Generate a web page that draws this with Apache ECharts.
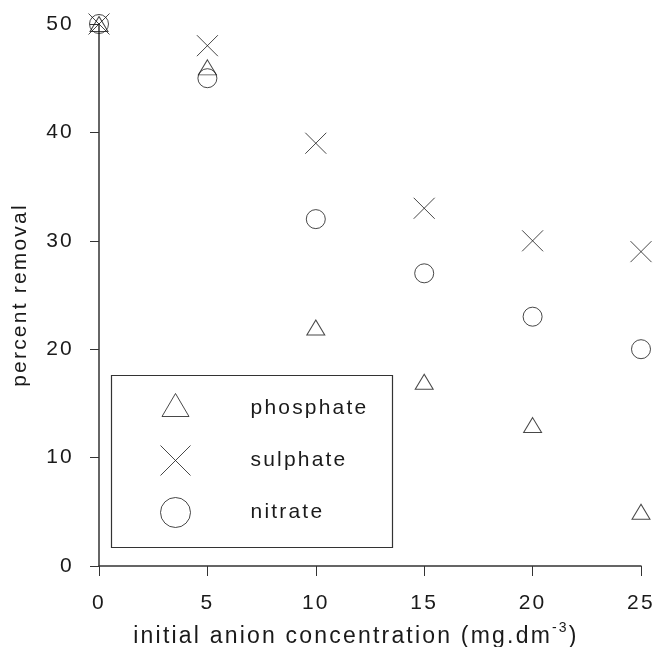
<!DOCTYPE html>
<html>
<head>
<meta charset="utf-8">
<script src="https://cdn.jsdelivr.net/npm/echarts@6/dist/echarts.min.js"></script>
<style>
html,body{margin:0;padding:0;background:#fff;}
#chart{width:655px;height:647px;}
</style>
</head>
<body>
<div id="chart"></div>
<script>
const concentrations = [0, 5, 10, 15, 20, 25];
const phosphate = [50, 46, 22, 17, 13, 5];
const sulphate = [50, 48, 39, 33, 30, 29];
const nitrate = [50, 45, 32, 27, 23, 20];
const seriesNames = ['phosphate', 'sulphate', 'nitrate'];
const xTicks = [0, 5, 10, 15, 20, 25];
const yTicks = [0, 10, 20, 30, 40, 50];

// letter spacing for canvas text (the reference typeface is widely tracked)
(function () {
  const P = CanvasRenderingContext2D.prototype;
  const SP = '2.2px';
  ['fillText', 'strokeText', 'measureText'].forEach(function (fn) {
    const orig = P[fn];
    P[fn] = function () {
      try { this.letterSpacing = SP; } catch (e) {}
      return orig.apply(this, arguments);
    };
  });
})();

const FONT = '"Liberation Sans", Arial, sans-serif';
const FS = 21;
const INK = '#1a1a1a';
const crossPath = 'path://M0,0L10,10M10,0L0,10';
const legendTri = 'path://M0,0M30,30M1.5,23L15,0L28.5,23Z';

function pairs(vals) { return concentrations.map((x, i) => [x, vals[i]]); }

const chart = echarts.init(document.getElementById('chart'), null, {renderer: 'canvas'});
const markerStyle = {color: 'none', borderColor: INK, borderWidth: 1};

chart.setOption({
  animation: false,
  backgroundColor: '#fff',
  grid: {left: 99, right: 14, top: 24, bottom: 81, containLabel: false, outerBoundsMode: 'none'},
  xAxis: {
    type: 'value', min: 0, max: 25, interval: 5,
    name: '{n|initial anion concentration (mg.dm}{s|-3}{n|)}',
    nameLocation: 'middle', nameGap: 54,
    nameTextStyle: {
      padding: [0, 28, 0, 0],
      rich: {
        n: {fontFamily: FONT, fontSize: 23, color: INK},
        s: {fontFamily: FONT, fontSize: 14, color: INK, padding: [0, 0, 16, 0]}
      }
    },
    axisLine: {show: true, onZero: false, lineStyle: {color: '#333', width: 1.5}},
    axisTick: {show: true, inside: false, length: 10, lineStyle: {color: '#333', width: 1}},
    axisLabel: {margin: 26, fontFamily: FONT, fontSize: FS, color: INK},
    splitLine: {show: false}
  },
  yAxis: {
    type: 'value', min: 0, max: 50, interval: 10,
    name: 'percent removal',
    nameLocation: 'middle', nameGap: 67,
    nameTextStyle: {fontFamily: FONT, fontSize: FS, color: INK},
    axisLine: {show: true, onZero: false, lineStyle: {color: '#333', width: 1.5}},
    axisTick: {show: true, inside: false, length: 9, lineStyle: {color: '#333', width: 1}},
    axisLabel: {margin: 25, fontFamily: FONT, fontSize: FS, color: INK},
    splitLine: {show: false}
  },
  legend: {
    orient: 'vertical',
    left: 158, top: 391,
    padding: 0,
    itemWidth: 30, itemHeight: 30, itemGap: 17,
    symbolKeepAspect: true,
    textStyle: {fontFamily: FONT, fontSize: FS, color: INK, lineHeight: 30, padding: [0, 0, 0, 55]},
    data: [
      {name: 'phosphate', icon: legendTri, itemStyle: markerStyle},
      {name: 'sulphate', icon: crossPath, itemStyle: markerStyle},
      {name: 'nitrate', icon: 'circle', itemStyle: markerStyle}
    ]
  },
  graphic: [{
    type: 'rect', left: 109, top: 373, z: 10, silent: true,
    shape: {width: 281, height: 172},
    style: {fill: 'none', stroke: '#333', lineWidth: 1.2}
  }],
  series: [
    {name: seriesNames[0], type: 'scatter', clip: false, data: pairs(phosphate),
     symbol: 'triangle', symbolSize: [18, 15], itemStyle: markerStyle},
    {name: seriesNames[1], type: 'scatter', clip: false, data: pairs(sulphate),
     symbol: crossPath, symbolSize: 21, itemStyle: markerStyle},
    {name: seriesNames[2], type: 'scatter', clip: false, data: pairs(nitrate),
     symbol: 'circle', symbolSize: 19, itemStyle: markerStyle}
  ]
});
</script>
</body>
</html>
